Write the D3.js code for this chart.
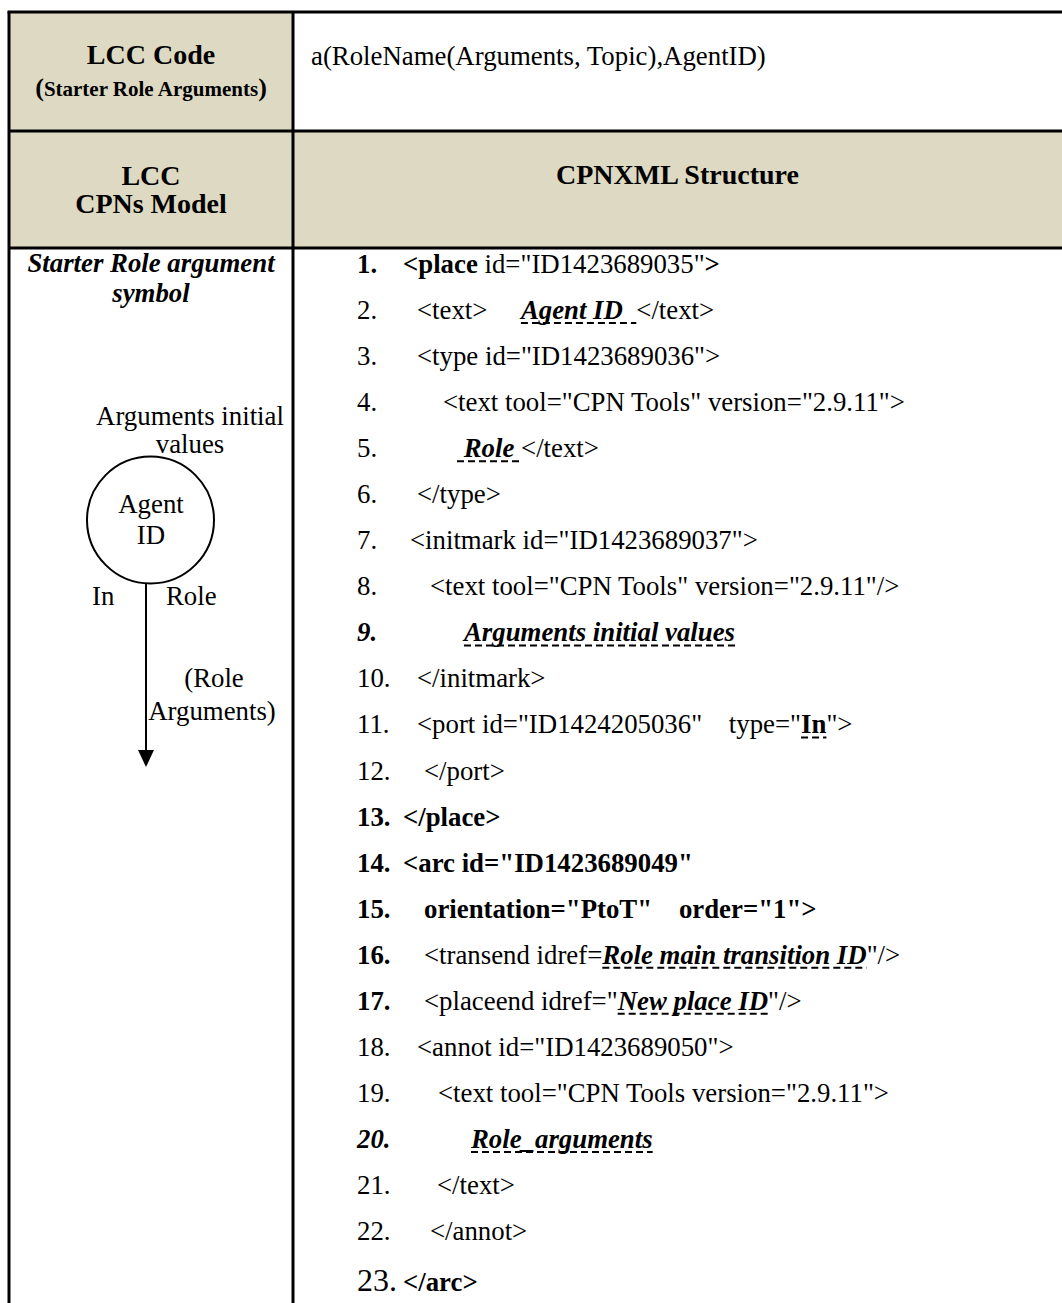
<!DOCTYPE html>
<html><head><meta charset="utf-8">
<script src="https://cdn.jsdelivr.net/npm/d3@7"></script>
<style>
body{margin:0;background:#fff}
text{font-family:"Liberation Serif","Times New Roman",serif;white-space:pre;fill:#000}
</style>
</head><body>
<svg id="chart" width="1062" height="1303"></svg>
<script>
// ---------- content ----------
const header1Left = ["LCC Code", "Starter Role Arguments"];
const header1Right = "a(RoleName(Arguments, Topic),AgentID)";
const header2Left = ["LCC", "CPNs Model"];
const header2Right = "CPNXML Structure";
const symbolTitle = ["Starter Role argument", "symbol"];
const initLabel = ["Arguments initial", "values"];
const placeLabel = ["Agent", "ID"];
const portLabel = "In";
const typeLabel = "Role";
const arcLabel = ["(Role", "Arguments)"];

// segments: [text, flags]  b = bold, i = italic, u = dashed underline
const xmlLines = [
  [["<place","b"],[" id=\"ID1423689035\"",""],[">","b"]],
  [["<text>     ",""],["Agent ID  ","biu"],["</text>",""]],
  [["<type id=\"ID1423689036\">",""]],
  [["<text tool=\"CPN Tools\" version=\"2.9.11\">",""]],
  [[" Role ","biu"],["</text>",""]],
  [["</type>",""]],
  [["<initmark id=\"ID1423689037\">",""]],
  [["<text tool=\"CPN Tools\" version=\"2.9.11\"/>",""]],
  [["Arguments initial values","biu"]],
  [["</initmark>",""]],
  [["<port id=\"ID1424205036\"    type=\"",""],["In","bu"],["\">",""]],
  [["</port>",""]],
  [["</place>","b"]],
  [["<arc id=\"ID1423689049\"","b"]],
  [["orientation=\"PtoT\"    order=\"1\">","b"]],
  [["<transend idref=",""],["Role main transition ID","biu"],["\"/>",""]],
  [["<placeend idref=\"",""],["New place ID","biu"],["\"/>",""]],
  [["<annot id=\"ID1423689050\">",""]],
  [["<text tool=\"CPN Tools version=\"2.9.11\">",""]],
  [["Role_arguments","biu"]],
  [["</text>",""]],
  [["</annot>",""]],
  [["</arc>","b"]]
];
const numberFlags = ["b","","","","","","","","bi","","","","b","b","b","b","b","","","bi","","","L"];

// ---------- layout ----------
const W = 1062, H = 1303;
const shade = "#ddd9c3";
const xL = 9, xDiv = 293, xR = 1062;
const yTop = 12, yRow1 = 131, yRow2 = 248;
const fs = 26.8;
const indent = [403,417,417,443,457,417,410,430,464,417,417,424,403,403,424,424,424,417,438,471,437,430,403];
const numX = 357;
const lineY = d3.scaleLinear().domain([1, 22]).range([273, 1240]);
const yOf = n => n === 23 ? lineY(23) + 5 : lineY(n);
const leftC = (xL + xDiv) / 2, rightC = (xDiv + xR) / 2;

const svg = d3.select("#chart");

// shading
svg.append("rect").attr("x", xL).attr("y", yTop).attr("width", xDiv - xL).attr("height", yRow1 - yTop).attr("fill", shade);
svg.append("rect").attr("x", xL).attr("y", yRow1).attr("width", xR - xL).attr("height", yRow2 - yRow1).attr("fill", shade);

// grid lines
const gl = svg.append("g").attr("stroke", "#000").attr("stroke-width", 3);
gl.append("line").attr("x1", xL - 1.5).attr("x2", xR).attr("y1", yTop).attr("y2", yTop);
gl.append("line").attr("x1", xL).attr("x2", xR).attr("y1", yRow1).attr("y2", yRow1);
gl.append("line").attr("x1", xL).attr("x2", xR).attr("y1", yRow2).attr("y2", yRow2);
gl.append("line").attr("x1", xL).attr("x2", xL).attr("y1", yTop).attr("y2", H);
gl.append("line").attr("x1", xDiv).attr("x2", xDiv).attr("y1", yTop).attr("y2", H);

function txt(x, y, s, opts = {}) {
  return svg.append("text").attr("x", x).attr("y", y)
    .attr("text-anchor", opts.anchor || "start")
    .attr("font-size", opts.size || fs)
    .attr("font-weight", opts.bold ? "bold" : "normal")
    .attr("font-style", opts.italic ? "italic" : "normal")
    .text(s);
}

// header row 1
txt(leftC, 64, header1Left[0], {anchor: "middle", bold: true, size: 28});
const sub = svg.append("text").attr("x", leftC).attr("y", 96).attr("text-anchor", "middle").attr("font-weight", "bold");
sub.append("tspan").attr("font-size", 26).text("(");
sub.append("tspan").attr("font-size", 21).text(header1Left[1]);
sub.append("tspan").attr("font-size", 26).text(")");
txt(311, 65, header1Right);

// header row 2
txt(leftC, 185, header2Left[0], {anchor: "middle", bold: true, size: 28});
txt(leftC, 213, header2Left[1], {anchor: "middle", bold: true, size: 28});
txt(rightC, 184, header2Right, {anchor: "middle", bold: true, size: 28});

// symbol column
txt(leftC, 272, symbolTitle[0], {anchor: "middle", bold: true, italic: true});
txt(leftC, 302, symbolTitle[1], {anchor: "middle", bold: true, italic: true});
txt(190, 425, initLabel[0], {anchor: "middle"});
txt(190, 453, initLabel[1], {anchor: "middle"});
svg.append("circle").attr("cx", 150.5).attr("cy", 520).attr("r", 63.5)
  .attr("fill", "none").attr("stroke", "#000").attr("stroke-width", 2);
txt(151, 513, placeLabel[0], {anchor: "middle"});
txt(151, 544, placeLabel[1], {anchor: "middle"});
svg.append("line").attr("x1", 146).attr("x2", 146).attr("y1", 583).attr("y2", 752)
  .attr("stroke", "#000").attr("stroke-width", 2);
svg.append("path").attr("d", d3.line()([[138, 750], [154, 750], [146, 767]]) + "Z").attr("fill", "#000");
txt(92, 605, portLabel);
txt(166, 605, typeLabel);
txt(214, 687, arcLabel[0], {anchor: "middle"});
txt(212, 720, arcLabel[1], {anchor: "middle"});

// XML lines
const lines = svg.append("g");
xmlLines.forEach((segs, i) => {
  const n = i + 1, y = yOf(n), f = numberFlags[i];
  lines.append("text").attr("x", numX).attr("y", y)
    .attr("font-size", f === "L" ? 32 : fs)
    .attr("font-weight", f.includes("b") ? "bold" : "normal")
    .attr("font-style", f.includes("i") ? "italic" : "normal")
    .text(n + ".");
  const t = lines.append("text").attr("x", indent[i]).attr("y", y).attr("font-size", fs);
  const spans = segs.map(([s, fl]) => t.append("tspan")
    .attr("font-weight", fl.includes("b") ? "bold" : "normal")
    .attr("font-style", fl.includes("i") ? "italic" : "normal")
    .text(s));
  segs.forEach(([s, fl], k) => {
    if (!fl.includes("u")) return;
    const node = spans[k].node();
    const x0 = node.getStartPositionOfChar(0).x;
    const w = node.getComputedTextLength();
    lines.append("line").attr("x1", x0).attr("x2", x0 + w).attr("y1", y + 4).attr("y2", y + 4)
      .attr("stroke", "#000").attr("stroke-width", 2).attr("stroke-dasharray", "7,4");
  });
});
</script>
</body></html>
